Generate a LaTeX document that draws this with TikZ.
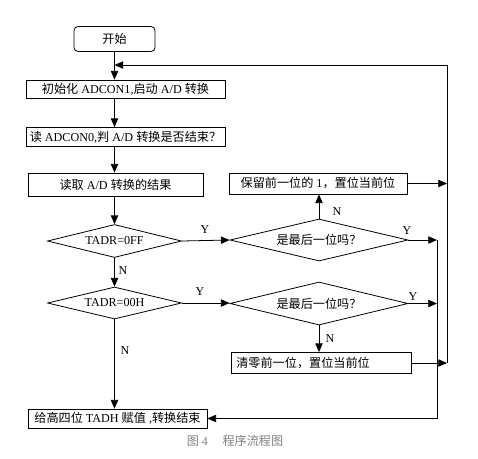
\documentclass[tikz,border=0pt]{standalone}
\usepackage{fontspec}
\setmainfont{Liberation Serif}
\newfontfamily\cjk{Noto Sans CJK SC}
\usetikzlibrary{shapes.geometric,arrows.meta}
\newcommand{\zh}[1]{{\cjk #1}}
\begin{document}
\begin{tikzpicture}[x=0.75pt,y=-0.75pt, font=\fontsize{9.1}{11}\selectfont,
 box/.style={draw, line width=0.6pt, inner sep=0pt},
 dia/.style={draw, diamond, aspect=4, inner sep=0pt, line width=0.6pt},
 arr/.style={-{Triangle[length=6.5pt,width=5.5pt]}, line width=0.6pt},
 lab/.style={inner sep=0pt, font=\fontsize{9}{10}\selectfont}]
\useasboundingbox (0,0) rectangle (478,458);

\node[box, rounded corners=3pt, minimum width=60.75pt, minimum height=18.75pt] (start) at (114.5,39) {\zh{开始}};
\node[box, minimum width=149.25pt, minimum height=13.5pt] (b1) at (125.5,89) {\zh{初始化} ADCON1,\zh{启动} A/D \zh{转换}};
\node[box, minimum width=149.25pt, minimum height=14.25pt] (b2) at (125.5,137) {\zh{读} ADCON0,\zh{判} A/D \zh{转换是否结束？}};
\node[box, minimum width=131.25pt, minimum height=17.25pt] (b3) at (115.5,184.5) {\zh{读取} A/D \zh{转换的结果}};
\node[box, minimum width=133.5pt, minimum height=15.75pt] (b4) at (318,183.5) {\zh{保留前一位的} 1\zh{，置位当前位}};
\node[dia, minimum width=100.5pt, minimum height=24.75pt] (d1) at (114.5,241) {TADR=0FF};
\node[dia, minimum width=133.5pt, minimum height=31.5pt] (d2) at (319,240) {\zh{是最后一位吗？}};
\node[dia, minimum width=100.5pt, minimum height=24pt] (d3) at (114.5,303) {TADR=00H};
\node[dia, minimum width=133.5pt, minimum height=32.25pt] (d4) at (319,303.5) {\zh{是最后一位吗？}};
\node[box, minimum width=135pt, minimum height=15.75pt, text width=127pt, inner xsep=4pt, align=left] (b5) at (321,363) {\zh{清零前一位，置位当前位}};
\node[box, minimum width=134.25pt, minimum height=14.25pt] (b6) at (117.5,418.5) {\zh{给高四位} TADH \zh{赋值} ,\zh{转换结束}};
\node[text=black!50, inner sep=0pt] (cap) at (235,441) {\zh{图} 4\hspace{1.2em}\zh{程序流程图}};

\coordinate (rtop) at (447,65);
\coordinate (rbot) at (447,363);
\coordinate (c1) at (437,240);
\coordinate (c2) at (437,418.5);

\draw[arr] (start.south) -- (start.south |- b1.north);
\draw[arr] (start.south |- b1.south) -- (start.south |- b2.north);
\draw[arr] (start.south |- b2.south) -- (start.south |- b3.north);
\draw[arr] (start.south |- b3.south) -- (d1.north);
\draw[arr] (d1.south) -- (d3.north);
\draw[arr] (d3.south) -- (d3.south |- b6.north);
\draw[arr] (d1.east) -- (d2.west);
\draw[arr] (d3.east) -- (d3.east -| d4.west);
\draw[arr] (d2.north) -- (d2.north |- b4.south);
\draw[arr] (d4.south) -- (d4.south |- b5.north);
\draw[arr] (d2.east) -- (c1);
\draw[arr] (d4.east) -- (d4.east -| c1);
\draw[arr] (c1) -- (c2) -- (b6.east);
\draw[arr] (b4.east) -- (b4.east -| rtop);
\draw[arr] (b5.east) -- (b5.east -| rtop);
\draw[arr] (rbot) -- (rtop) -- (rtop -| start.south);

\node[lab] (y1) at (205,230) {Y};
\node[lab] (y2) at (200,292) {Y};
\node[lab] (y3) at (407,231) {Y};
\node[lab] (y4) at (413,297) {Y};
\node[lab] (n1) at (123,271) {N};
\node[lab] (n2) at (337,212) {N};
\node[lab] (n3) at (330,339) {N};
\node[lab] (n4) at (125,351) {N};
\end{tikzpicture}
\end{document}
